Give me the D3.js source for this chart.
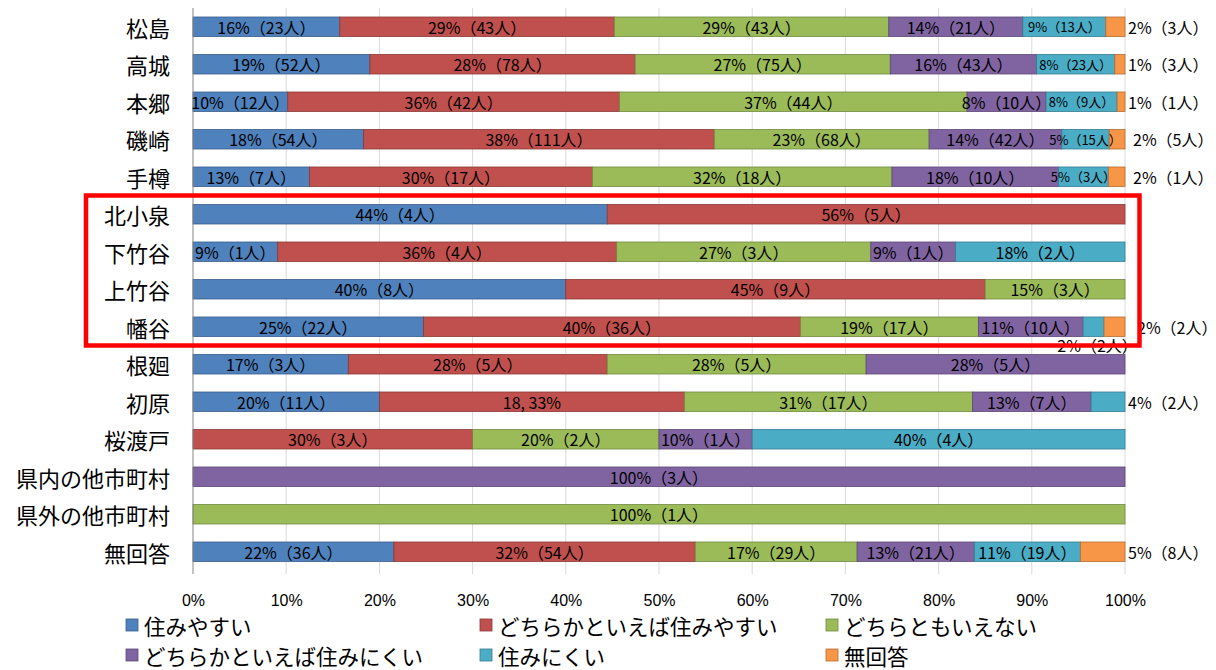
<!DOCTYPE html>
<html><head><meta charset="utf-8">
<script src="https://cdn.jsdelivr.net/npm/d3@7"></script>
<style>
body{margin:0;background:#fff;}
svg{display:block;}
.lbl{font-family:"Liberation Sans Narrow","Noto Sans CJK JP",sans-serif;}
.tick{font-family:"Liberation Sans","Noto Sans CJK JP",sans-serif;}
.jp{font-family:"Noto Sans CJK JP",sans-serif;}
</style></head>
<body>
<svg id="chart" width="1216" height="670"></svg>
<script>
const categories = ["松島","高城","本郷","磯崎","手樽","北小泉","下竹谷","上竹谷","幡谷","根廻","初原","桜渡戸","県内の他市町村","県外の他市町村","無回答"];
const seriesNames = ["住みやすい","どちらかといえば住みやすい","どちらともいえない","どちらかといえば住みにくい","住みにくい","無回答"];
const colors = ["#4F81BD","#C0504D","#9BBB59","#8064A2","#4BACC6","#F79646"];
const borders = ["#385D8A","#8C3836","#71893F","#5C4776","#357D91","#B66D31"];

// counts (人) per series, per category
const sumiyasui    = [23,52,12,54,7,4,1,8,22,3,11,0,0,0,36];
const yayaYasui    = [43,78,42,111,17,5,4,9,36,5,18,3,0,0,54];
const dochiraMo    = [43,75,44,68,18,0,3,3,17,5,17,2,0,1,29];
const yayaNikui    = [21,43,10,42,10,0,1,0,10,5,7,1,3,0,21];
const sumiNikui    = [13,23,9,15,3,0,2,0,2,0,2,4,0,0,19];
const muKaito      = [3,3,1,5,1,0,0,0,2,0,0,0,0,0,8];

// in-bar labels as printed
const lab0 = ["16%（23人）","19%（52人）","10%（12人）","18%（54人）","13%（7人）","44%（4人）","9%（1人）","40%（8人）","25%（22人）","17%（3人）","20%（11人）","","","","22%（36人）"];
const lab1 = ["29%（43人）","28%（78人）","36%（42人）","38%（111人）","30%（17人）","56%（5人）","36%（4人）","45%（9人）","40%（36人）","28%（5人）","18, 33%","30%（3人）","","","32%（54人）"];
const lab2 = ["29%（43人）","27%（75人）","37%（44人）","23%（68人）","32%（18人）","","27%（3人）","15%（3人）","19%（17人）","28%（5人）","31%（17人）","20%（2人）","","100%（1人）","17%（29人）"];
const lab3 = ["14%（21人）","16%（43人）","8%（10人）","14%（42人）","18%（10人）","","9%（1人）","","11%（10人）","28%（5人）","13%（7人）","10%（1人）","100%（3人）","","13%（21人）"];
const lab4 = ["9%（13人）","8%（23人）","8%（9人）","5%（15人）","5%（3人）","","18%（2人）","","","","","40%（4人）","","","11%（19人）"];
const lab5 = ["","","","","","","","","","","","","","",""];
// labels printed to the right of the bar
const outsideLabels = ["2%（3人）","1%（3人）","1%（1人）","2%（5人）","2%（1人）","","","","2%（2人）","","4%（2人）","","","","5%（8人）"];
// label printed below the 幡谷 bar (住みにくい)
const belowLabel = {category:"幡谷", text:"2%（2人）"};

const xTicks = [0,0.1,0.2,0.3,0.4,0.5,0.6,0.7,0.8,0.9,1];
const highlighted = ["北小泉","下竹谷","上竹谷","幡谷"];

const seriesVals = [sumiyasui,yayaYasui,dochiraMo,yayaNikui,sumiNikui,muKaito];
const seriesLabs = [lab0,lab1,lab2,lab3,lab4,lab5];

const svg = d3.select("#chart");
const x = d3.scaleLinear().domain([0,1]).range([193,1125]);
const y = d3.scaleBand().domain(categories).range([8,570.5]).paddingInner(0.48).paddingOuter(0.24);

// build stacked table
const rows = categories.map((c,i)=>{
  const o = {cat:c};
  seriesNames.forEach((s,j)=>o[s]=seriesVals[j][i]);
  return o;
});
const totals = rows.map(r=>d3.sum(seriesNames,s=>r[s]));
const normRows = rows.map((r,i)=>{
  const o={cat:r.cat};
  seriesNames.forEach(s=>o[s]=r[s]/totals[i]);
  return o;
});
const stacked = d3.stack().keys(seriesNames)(normRows);

// gridlines
svg.append("g").selectAll("line").data(xTicks.slice(1)).join("line")
  .attr("x1",d=>x(d)).attr("x2",d=>x(d)).attr("y1",8).attr("y2",574)
  .attr("stroke","#d9d9d9").attr("stroke-width",1);

// bars
stacked.forEach((layer,j)=>{
  svg.append("g").selectAll("rect").data(layer).join("rect")
    .attr("x",d=>x(d[0])).attr("width",d=>Math.max(0,x(d[1])-x(d[0])))
    .attr("y",d=>y(d.data.cat)).attr("height",y.bandwidth())
    .attr("fill",colors[j]).attr("stroke",d=>d[1]-d[0]>0?borders[j]:"none").attr("stroke-width",0.8);
});

// y axis line
svg.append("line").attr("x1",193).attr("x2",193).attr("y1",8).attr("y2",574).attr("stroke","#868686");

// in-bar labels
stacked.forEach((layer,j)=>{
  svg.append("g").selectAll("text").data(layer.map((d,i)=>({d,i,t:seriesLabs[j][i]})).filter(o=>o.t))
    .join("text").attr("class","lbl")
    .attr("x",o=>x((o.d[0]+o.d[1])/2)).attr("y",o=>y(o.d.data.cat)+y.bandwidth()/2)
    .attr("text-anchor","middle").attr("dominant-baseline","central")
    .attr("font-size",o=>(j===4 && o.i<5)?13:16).attr("fill","#000").text(o=>o.t);
});

// outside labels
svg.append("g").selectAll("text").data(categories.map((c,i)=>({c,t:outsideLabels[i],i})).filter(o=>o.t))
  .join("text").attr("class","lbl")
  .attr("x",o=>x(1)+ (o.c==="幡谷"?12:(o.i===3||o.i===4?8:3)))
  .attr("y",o=>y(o.c)+y.bandwidth()/2)
  .attr("dominant-baseline","central").attr("font-size",16).text(o=>o.t);

// label below 幡谷 bar
{
  const bi = categories.indexOf(belowLabel.category);
  const seg = stacked[4][bi];
  svg.append("text").attr("class","lbl")
    .attr("x",x((seg[0]+seg[1])/2)+4).attr("y",y(belowLabel.category)+y.bandwidth()+8)
    .attr("text-anchor","middle").attr("dominant-baseline","central")
    .attr("font-size",16).text(belowLabel.text);
}

// category labels
svg.append("g").selectAll("text").data(categories).join("text").attr("class","jp")
  .attr("x",170).attr("y",d=>y(d)+y.bandwidth()/2)
  .attr("text-anchor","end").attr("dominant-baseline","central")
  .attr("font-size",22).attr("font-weight",400).attr("fill","#000").text(d=>d);

// x axis tick labels
const xAxis = d3.axisBottom(x).tickValues(xTicks).tickFormat(d3.format(".0%")).tickSize(0).tickPadding(0);
const gx = svg.append("g").attr("transform","translate(0,592)").call(xAxis);
gx.select(".domain").remove();
gx.selectAll("text").attr("class","tick").attr("font-size",16).attr("fill","#000").attr("dy","0.35em").attr("y",8);

// red highlight box
{
  const top = y(highlighted[0]) - 9;
  const bot = y(highlighted[highlighted.length-1]) + y.bandwidth() + 9;
  svg.append("rect").attr("x",86).attr("y",top).attr("width",1053.5).attr("height",bot-top)
    .attr("fill","none").attr("stroke","#FF0000").attr("stroke-width",4.5);
}

// legend
const legX = [126,480,826];
const leg = svg.append("g").selectAll("g").data(seriesNames).join("g")
  .attr("transform",(d,i)=>`translate(${legX[i%3]},${i<3?625:655})`);
leg.append("rect").attr("x",0).attr("y",-6).attr("width",12).attr("height",12)
  .attr("fill",(d,i)=>colors[i]).attr("stroke",(d,i)=>borders[i]).attr("stroke-width",0.8);
leg.append("text").attr("class","jp").attr("x",18).attr("y",0).attr("dominant-baseline","central")
  .attr("font-size",21.5).attr("fill","#000").text(d=>d);
</script>
</body></html>
